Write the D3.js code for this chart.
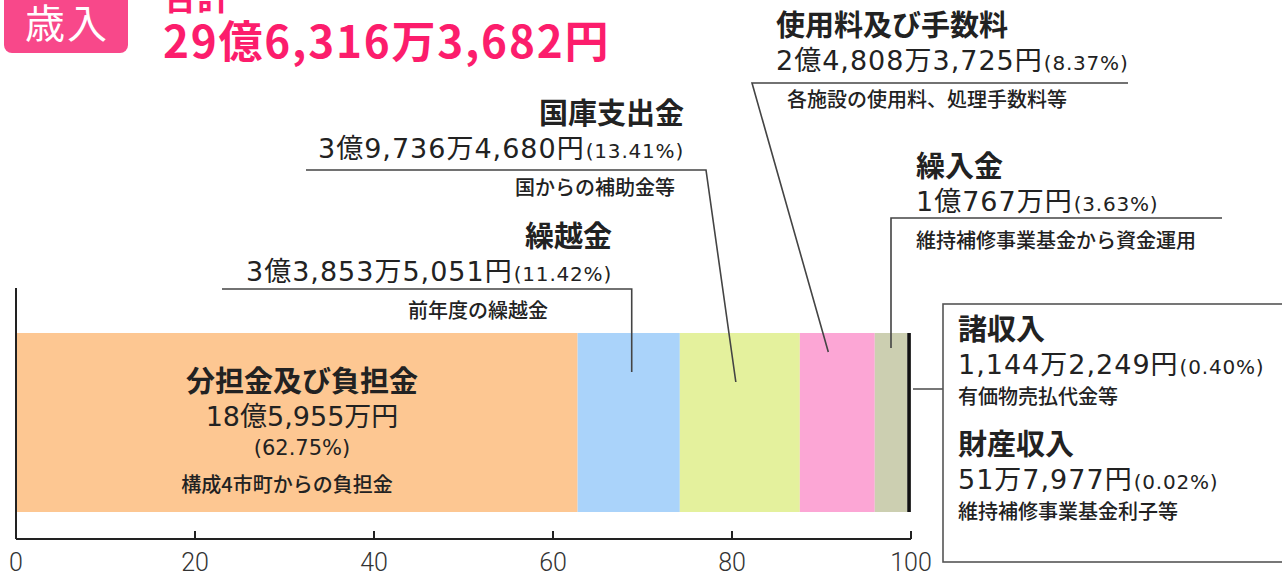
<!DOCTYPE html>
<html>
<head>
<meta charset="utf-8">
<script src="https://cdn.jsdelivr.net/npm/d3@7"></script>
<style>
  body { margin: 0; background: #fff; }
  svg { display: block; font-family: "Noto Sans CJK JP", "Noto Sans", sans-serif; }
  .num { font-family: "DejaVu Sans", "Noto Sans CJK JP", sans-serif; }
</style>
</head>
<body>
<svg id="chart" width="1282" height="576"></svg>
<script>
// data
const categories = ["分担金及び負担金", "繰越金", "国庫支出金", "使用料及び手数料", "繰入金", "諸収入", "財産収入"];
const amounts = ["18億5,955万円", "3億3,853万5,051円", "3億9,736万4,680円", "2億4,808万3,725円", "1億767万円", "1,144万2,249円", "51万7,977円"];
const shares = [62.75, 11.42, 13.41, 8.37, 3.63, 0.40, 0.02];
const notes = ["構成4市町からの負担金", "前年度の繰越金", "国からの補助金等", "各施設の使用料、処理手数料等", "維持補修事業基金から資金運用", "有価物売払代金等", "維持補修事業基金利子等"];
const colors = ["#fdc792", "#aad3fa", "#e4f19d", "#fca6d5", "#cccfb1", "#111", "#111"];
const xTicks = [0, 20, 40, 60, 80, 100];
const titleLabel = "歳入";
const totalLabel = "合計";
const totalAmount = "29億6,316万3,682円";

const svg = d3.select("#chart");

const x = d3.scaleLinear().domain([0, 100]).range([16, 911]);
const barTop = 333, barBottom = 512, axisY = 539;

// cumulative segments
let acc = 0;
const segs = shares.map((s, i) => {
    const d = {i: i, x0: acc, x1: acc + s};
    acc += s;
    return d;
});

// bar segments
svg.append("g").selectAll("rect")
    .data(segs)
    .join("rect")
    .attr("x", d => x(d.x0))
    .attr("y", barTop)
    .attr("width", d => x(d.x1) - x(d.x0))
    .attr("height", barBottom - barTop)
    .attr("fill", d => colors[d.i]);

// axis
const axis = svg.append("g");
axis.append("line")
    .attr("x1", x(0)).attr("x2", x(0))
    .attr("y1", 288).attr("y2", axisY)
    .attr("stroke", "#222").attr("stroke-width", 2);
axis.append("line")
    .attr("x1", x(0)).attr("x2", x(100))
    .attr("y1", axisY).attr("y2", axisY)
    .attr("stroke", "#222").attr("stroke-width", 2);
axis.selectAll(".tick")
    .data(xTicks.slice(1))
    .join("line")
    .attr("x1", d => x(d)).attr("x2", d => x(d))
    .attr("y1", axisY - 8).attr("y2", axisY)
    .attr("stroke", "#222").attr("stroke-width", 2);
axis.selectAll(".tl")
    .data(xTicks)
    .join("text")
    .attr("x", d => x(d))
    .attr("y", 571)
    .attr("text-anchor", "middle")
    .attr("font-size", 25)
    .attr("font-weight", 300)
    .attr("fill", "#333")
    .attr("font-family", "Roboto, sans-serif")
    .text(d => d);

// header
svg.append("rect")
    .attr("x", 4).attr("y", -12)
    .attr("width", 124).attr("height", 65)
    .attr("rx", 8)
    .attr("fill", "#f8488a");
svg.append("text")
    .attr("x", 67).attr("y", 38)
    .attr("text-anchor", "middle")
    .attr("font-size", 40)
    .attr("letter-spacing", 2)
    .attr("fill", "#fff")
    .text(titleLabel);
svg.append("text")
    .attr("x", 163).attr("y", 10)
    .attr("font-size", 34)
    .attr("font-weight", 700)
    .attr("fill", "#fc1d6c")
    .text(totalLabel);
svg.append("text")
    .attr("x", 163).attr("y", 58)
    .attr("font-size", 44)
    .attr("font-weight", 700)
    .attr("letter-spacing", 1.8)
    .attr("fill", "#fc1d6c")
    .text(totalAmount);

// label layout: where each label block sits and how its leader runs
const layout = [
    {anchor: "middle", x: 302, y: 392, inside: true},
    {anchor: "end", x: 612, y: 247, line: [222, 289], endY: 372, noteX: 548},
    {anchor: "end", x: 684, y: 124, line: [306, 170], endY: 382, noteX: 675},
    {anchor: "start", x: 776, y: 36, line: [1128, 83], endY: 352, noteX: 787},
    {anchor: "start", x: 916, y: 177, line: [1222, 218], endY: 348, noteX: 916},
    {anchor: "start", x: 958, y: 340, box: true},
    {anchor: "start", x: 958, y: 455, box: true}
];

const labels = svg.append("g");

layout.forEach((l, i) => {
    const g = labels.append("g");
    if (l.inside) {
        g.append("text").attr("x", l.x).attr("y", l.y)
            .attr("text-anchor", "middle").attr("font-size", 29).attr("font-weight", 700)
            .attr("fill", "#222").text(categories[i]);
        g.append("text").attr("class", "num").attr("x", l.x).attr("y", l.y + 34)
            .attr("text-anchor", "middle").attr("font-size", 27)
            .attr("fill", "#222").text(amounts[i]);
        g.append("text").attr("class", "num").attr("x", l.x).attr("y", l.y + 63)
            .attr("text-anchor", "middle").attr("font-size", 21)
            .attr("fill", "#222").text("(" + shares[i].toFixed(2) + "%)");
        g.append("text").attr("x", l.x - 15).attr("y", l.y + 100)
            .attr("text-anchor", "middle").attr("font-size", 20).attr("font-weight", 500)
            .attr("fill", "#222").text(notes[i]);
        return;
    }
    g.append("text").attr("x", l.x).attr("y", l.y)
        .attr("text-anchor", l.anchor).attr("font-size", 29).attr("font-weight", 700)
        .attr("fill", "#222").text(categories[i]);
    const t = g.append("text").attr("class", "num").attr("x", l.x).attr("y", l.y + 34)
        .attr("text-anchor", l.anchor).attr("fill", "#222");
    t.append("tspan").attr("font-size", 27).attr("letter-spacing", 1).text(amounts[i]);
    t.append("tspan").attr("font-size", 20).attr("dx", 1).attr("letter-spacing", 0.8)
        .text("(" + shares[i].toFixed(2) + "%)");
    g.append("text").attr("x", l.noteX != null ? l.noteX : l.x).attr("y", l.y + (l.box ? 64 : 71))
        .attr("text-anchor", l.anchor).attr("font-size", 20).attr("font-weight", 500)
        .attr("fill", "#222").text(notes[i]);

    if (l.line) {
        const s = segs[i];
        const mx = x((s.x0 + s.x1) / 2);
        // leader: horizontal rule then down to the segment
        const far = l.line[0], ly = l.line[1];
        const near = (l.anchor === "end") ? (i === 1 ? mx + 3 : 706) : (i === 3 ? 752 : mx);
        const ex = (i === 3) ? mx - 9 : (i === 2 ? mx - 4 : near);
        g.append("path")
            .attr("d", d3.line()([[far, ly], [near, ly], [ex, l.endY]]))
            .attr("fill", "none").attr("stroke", "#444").attr("stroke-width", 1.6);
    }
});

// box around the two small items
svg.append("rect")
    .attr("x", 943).attr("y", 304)
    .attr("width", 360).attr("height", 258)
    .attr("fill", "none").attr("stroke", "#555").attr("stroke-width", 1.6);
svg.append("line")
    .attr("x1", x(100) + 2).attr("x2", 943)
    .attr("y1", 389).attr("y2", 389)
    .attr("stroke", "#555").attr("stroke-width", 1.6);
</script>
</body>
</html>
